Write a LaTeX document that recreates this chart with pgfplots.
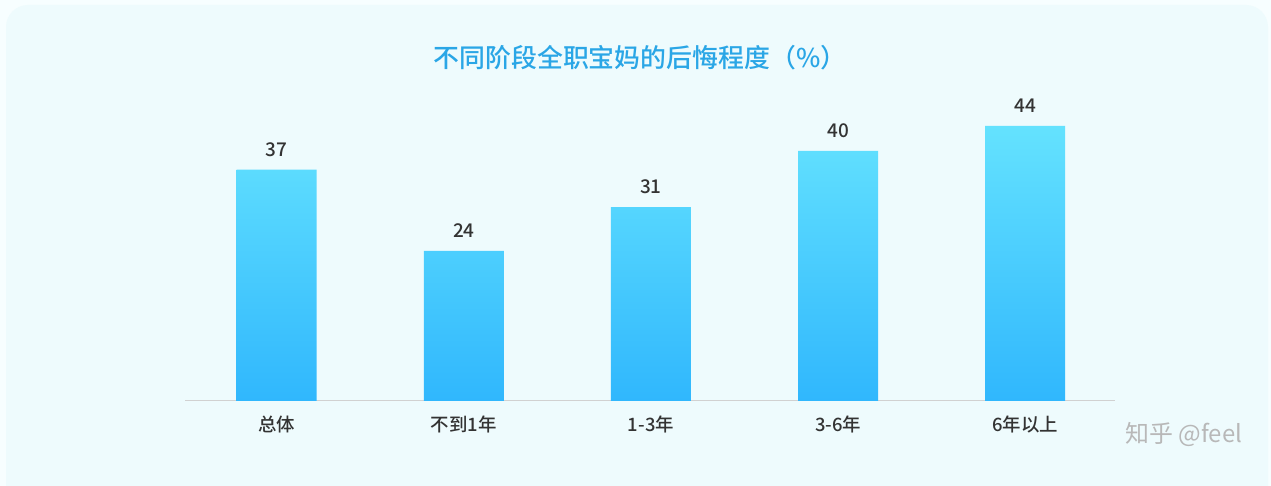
\documentclass[border=0pt]{standalone}
\usepackage{pgfplots}
\pgfplotsset{compat=1.18}
\usepackage{fontspec}
\setmainfont{Noto Sans CJK SC}
\newfontfamily\medfont{Noto Sans CJK SC Medium}
\definecolor{bgout}{HTML}{F7FEFF}
\definecolor{bgc}{HTML}{EEFBFD}
\definecolor{titlec}{HTML}{2AA6E6}
\definecolor{barTop}{HTML}{64E2FE}
\definecolor{barBot}{HTML}{30B7FD}
\definecolor{txt}{HTML}{333333}
\begin{document}
\begin{tikzpicture}[x=1bp,y=1bp]
\path[use as bounding box] (0,0) rectangle (1271,486);
\fill[bgout] (0,0) rectangle (1271,486);
\begin{scope}
\clip (0,0) rectangle (1271,486);
\fill[bgc, rounded corners=22bp] (6,-30) rectangle (1268,481);
\end{scope}
\node[text=titlec, font=\medfont\fontsize{26}{30}\selectfont] at (640,428) {不同阶段全职宝妈的后悔程度（\%）};
\begin{axis}[
  at={(185bp,85bp)}, anchor=south west,
  scale only axis, width=930bp, height=300bp,
  xmin=-0.49, xmax=4.48, ymin=0, ymax=48,
  axis y line=none, axis x line*=bottom,
  x axis line style={draw=black!18, line width=1bp, -},
  xtick={0,1,2,3,4},
  xticklabels={总体,不到1年,1-3年,3-6年,6年以上},
  major tick length=0pt,
  xticklabel style={font=\medfont\fontsize{18.5}{22}\selectfont, text=txt, yshift=-11bp},
  ybar, bar width=80bp,
  nodes near coords,
  /pgf/number format/assume math mode=true,
  every node near coord/.append style={font=\medfont\fontsize{19}{22}\selectfont, text=txt, anchor=south, inner sep=0pt, yshift=13bp},
  clip=false,
]
\addplot[draw=none, top color=barTop, bottom color=barBot] coordinates {(0,37) (1,24) (2,31) (3,40) (4,44)};
\end{axis}
\node[text=black!28, font=\fontsize{24}{28}\selectfont, anchor=west] at (1122,51) {知乎 @feel};
\end{tikzpicture}
\end{document}
